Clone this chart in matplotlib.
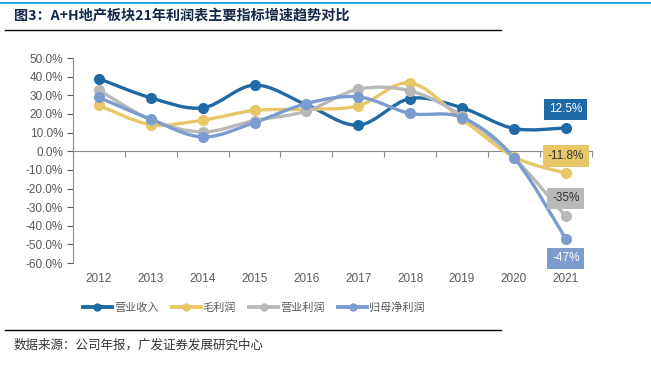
import numpy as np
import matplotlib
matplotlib.use("Agg")
import matplotlib.pyplot as plt
from matplotlib.path import Path
from matplotlib.patches import PathPatch
from matplotlib.lines import Line2D

plt.rcParams['font.family'] = ['Liberation Sans', 'Noto Sans CJK SC', 'DejaVu Sans']

years = [2012, 2013, 2014, 2015, 2016, 2017, 2018, 2019, 2020, 2021]
revenue = [39.0, 28.7, 23.3, 35.5, 25.0, 14.0, 28.3, 23.3, 12.2, 12.5]
gross_profit = [24.7, 14.3, 16.7, 21.9, 22.5, 24.4, 36.7, 17.2, -3.0, -11.8]
op_profit = [32.8, 17.0, 10.4, 16.5, 21.5, 33.3, 32.4, 19.0, -3.5, -35.0]
net_profit = [28.9, 17.2, 7.7, 15.4, 25.6, 29.2, 20.3, 18.1, -3.4, -47.0]

names = ['营业收入', '毛利润', '营业利润', '归母净利润']
series = [revenue, gross_profit, op_profit, net_profit]
colors = ['#1f6aa5', '#e8c766', '#b9b9b9', '#7c9ccf']
end_labels = ['12.5%', '-11.8%', '-35%', '-47%']
label_y = [22.5, -2.5, -25.3, -57.5]
label_fg = ['white', '#333333', '#333333', 'white']


def smooth_path(x, y, t=1/6):
    # Catmull-Rom style bezier through the data points (Excel "smooth line")
    x = np.asarray(x, float)
    y = np.asarray(y, float)
    verts = [(x[0], y[0])]
    codes = [Path.MOVETO]
    n = len(x)
    for i in range(n - 1):
        p0 = (x[max(i - 1, 0)], y[max(i - 1, 0)])
        p1 = (x[i], y[i])
        p2 = (x[i + 1], y[i + 1])
        p3 = (x[min(i + 2, n - 1)], y[min(i + 2, n - 1)])
        c1 = (p1[0] + (p2[0] - p0[0]) * t, p1[1] + (p2[1] - p0[1]) * t)
        c2 = (p2[0] - (p3[0] - p1[0]) * t, p2[1] - (p3[1] - p1[1]) * t)
        verts += [c1, c2, p2]
        codes += [Path.CURVE4] * 3
    return Path(verts, codes)


fig = plt.figure(figsize=(6.51, 3.70), dpi=100)
ax = fig.add_axes([0.112, 0.289, 0.797, 0.554])

for vals, c in zip(series, colors):
    ax.add_patch(PathPatch(smooth_path(years, vals), fill=False,
                           edgecolor=c, lw=2.4, zorder=3))
    ax.plot(years, vals, 'o', color=c, ms=7, zorder=4)

for yv, txt, c, fg in zip(label_y, end_labels, colors, label_fg):
    ax.text(years[-1], yv, txt, ha='center', va='center', fontsize=8.5,
            color=fg, zorder=5,
            bbox=dict(boxstyle='square,pad=0.4', fc=c, ec='none'))

ax.set_xlim(2011.5, 2021.5)
ax.set_ylim(-60, 50)
ax.set_yticks(np.arange(-60, 51, 10))
ax.set_yticklabels([f'{v:.1f}%' for v in np.arange(-60, 51, 10)])
ax.tick_params(axis='y', colors='#595959', labelsize=8.5, length=4,
               width=0.8, pad=3)

ax.spines['top'].set_visible(False)
ax.spines['right'].set_visible(False)
ax.spines['left'].set_color('#8c8c8c')
ax.spines['bottom'].set_position(('data', 0))
ax.spines['bottom'].set_color('#8c8c8c')
ax.set_xticks(np.arange(2011.5, 2022, 1))
ax.set_xticklabels([])
ax.tick_params(axis='x', colors='#8c8c8c', length=4, width=0.8)

for yr in years:
    ax.text(yr, -0.05, str(yr), transform=ax.get_xaxis_transform(),
            ha='center', va='top', fontsize=8.5, color='#595959')

handles = [Line2D([], [], color=c, lw=2.8, marker='o', ms=5) for c in colors]
fig.legend(handles, names, loc='center', bbox_to_anchor=(0.39, 0.17),
           ncol=4, frameon=False, fontsize=8, handlelength=2.6,
           columnspacing=1.2, handletextpad=0.2, labelcolor='#595959',
           prop={'family': ['Noto Sans CJK SC'], 'size': 8})

# header / footer decorations
fig.add_artist(Line2D([0, 1], [0.993, 0.993], color='#2aa6dc', lw=1.5,
                      transform=fig.transFigure))
fig.add_artist(Line2D([0.008, 0.77], [0.918, 0.918], color='black', lw=1.0,
                      transform=fig.transFigure))
fig.add_artist(Line2D([0.008, 0.77], [0.108, 0.108], color='black', lw=1.0,
                      transform=fig.transFigure))
fig.text(0.022, 0.955, '图3：A+H地产板块21年利润表主要指标增速趋势对比',
         fontsize=10.2, fontweight='bold', color='#14284b', va='center',
         family=['Noto Sans CJK SC', 'DejaVu Sans'])
fig.text(0.02, 0.068, '数据来源：公司年报，广发证券发展研究中心',
         fontsize=9, color='#333333', va='center',
         family=['Noto Sans CJK SC', 'DejaVu Sans'])

fig.savefig('out.png', dpi=100)
